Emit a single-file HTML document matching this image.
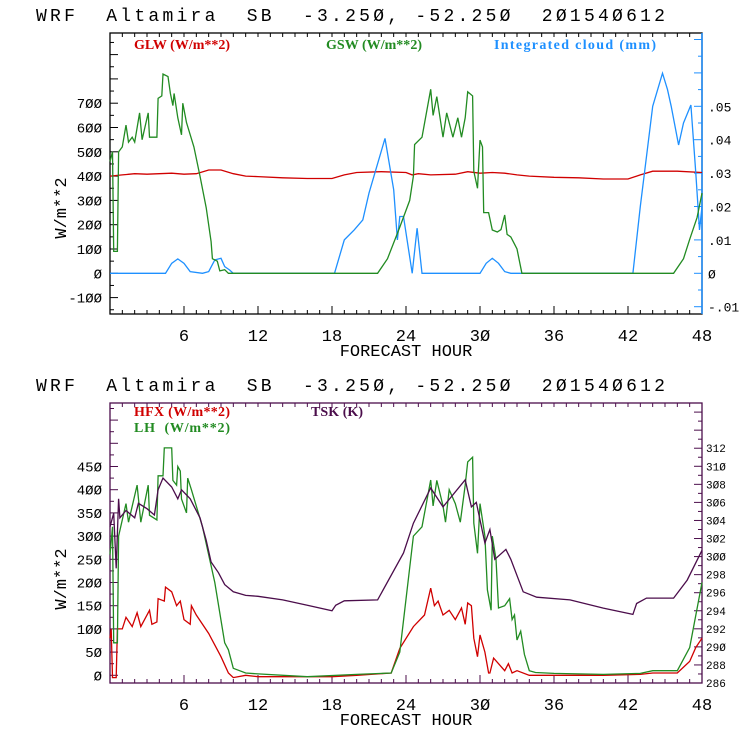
<!DOCTYPE html>
<html><head><meta charset="utf-8"><style>
html,body{margin:0;padding:0;background:#fff;}
svg text{font-family:"Liberation Mono","DejaVu Sans Mono",monospace;}
.leg{font-family:"Liberation Serif",serif;font-weight:bold;font-size:14px;white-space:pre;}
.ttl{white-space:pre;}
</style></head><body>
<svg id="c" width="740" height="740" viewBox="0 0 740 740" xmlns="http://www.w3.org/2000/svg"></svg>
<script>
// ---- data (top panel) ----
const glwH=[0,1,2,3,4,5,6,7,8,9,10,11,12,14,16,18,19,20,22,24,24.5,25,26,28,29,30,31,32,33,34,36,38,40,42,43,44,46,48];
const glwV=[400,405,410,408,410,412,408,410,425,425,410,400,398,393,390,390,405,415,418,415,405,410,405,408,418,412,415,412,405,400,395,393,388,388,405,420,420,415];
const gswH=[0,0.2,0.3,0.6,0.7,1.0,1.3,1.5,1.8,2.0,2.4,2.6,3.1,3.2,3.8,3.9,4.2,4.3,4.7,4.9,5.1,5.2,5.5,5.8,5.9,6.2,6.8,7.3,7.8,8.2,8.3,8.7,8.9,9.3,9.6,21.7,22.5,23.5,24.3,24.6,24.7,25.3,26.0,26.2,26.5,27.0,27.3,27.8,28.2,28.5,28.8,29.0,29.4,29.5,29.8,30.0,30.2,30.3,30.7,31.0,31.4,31.7,32.0,32.2,32.5,32.8,33.0,33.4,45.7,46.5,47,47.6,48];
const gswV=[460,500,90,90,500,520,610,540,560,540,660,550,660,560,560,720,730,820,810,740,690,740,640,570,700,620,520,400,270,130,60,50,10,15,0,0,60,190,300,400,530,560,757,650,727,560,660,560,640,560,640,747,730,420,350,548,520,250,250,178,170,180,240,160,150,120,100,0,0,60,140,230,330];
const cldH=[0,4.5,5,5.5,6,6.5,7.5,8,8.5,9,9.3,9.7,10,18.2,19,19.8,20.5,21,22.3,23,23.3,23.5,23.8,24.5,24.9,25.3,30,30.5,31,31.5,32,32.5,42.4,43,43.5,44,44.8,45.2,45.5,46.1,46.5,47.1,47.5,47.8,48];
const cldV=[0,0,0.003,0.0043,0.003,0.0005,0,0.0005,0.004,0.0045,0.002,0.001,0,0,0.01,0.013,0.016,0.024,0.0404,0.025,0.01,0.017,0.017,0,0.0135,0,0,0.003,0.0045,0.003,0.0005,0,0,0.02,0.035,0.05,0.0599,0.055,0.05,0.0384,0.045,0.0504,0.03,0.013,0.02];
// ---- data (bottom panel) ----
const hfxH=[0,0.1,0.2,0.5,0.6,1,1.3,1.8,2.2,2.5,3.2,3.4,3.8,3.9,4.4,4.5,5,5.4,5.7,6,6.5,6.6,7,8,9,9.6,10,11,12,18,20,22.8,23.5,24.6,25.5,26.0,26.3,26.6,27,27.5,28,28.5,28.8,29.0,29.3,29.5,29.8,30.0,30.4,30.7,30.8,31.1,32,32.3,32.6,33,34,36,40,43,44,46,47,47.5,48];
const hfxV=[80,100,-5,-5,100,100,125,105,135,105,140,110,115,165,160,190,180,150,160,120,110,150,130,90,40,5,-5,0,-3,-3,0,5,58,105,130,188,150,160,130,140,120,145,110,156,150,80,40,87,50,5,5,37,10,25,5,10,0,0,0,2,5,5,30,60,80];
const lhH=[0,0.2,0.3,0.6,0.7,1.3,1.5,2.2,2.5,3.1,3.2,3.8,3.9,4.3,4.4,5,5.1,5.4,5.5,5.7,5.8,6.2,6.3,6.6,7.5,8.5,9.3,9.6,10,11,12,16,20,22.8,23.5,24.6,25.3,26,26.2,26.5,27,27.2,27.5,28,28.4,28.8,29,29.4,29.5,29.8,30,30.4,30.6,30.9,31,31.3,31.5,32,32.4,32.6,32.8,33,33.3,33.6,34,34.5,36,40,43,44,46,47,48];
const lhV=[260,320,70,70,300,370,330,410,330,410,345,335,430,430,490,490,420,410,450,440,380,350,425,400,320,200,70,55,15,5,3,-3,2,5,50,300,320,421,365,420,365,330,400,370,330,410,460,470,328,263,370,300,184,140,300,250,145,150,165,120,130,76,95,45,10,6,4,2,4,10,10,60,200];
const tskH=[0,0.3,0.5,0.7,0.8,1.3,2,2.3,3,3.6,3.9,4.3,5,5.5,5.8,6.5,7.3,7.8,8.2,8.8,9.3,10,11,12,14,16,18,18.3,19,21.7,23.8,24.6,26.0,27.0,28.8,29.3,29.7,30.4,30.8,31.2,32.1,32.5,33.5,34.6,37.3,40,42.4,42.7,43.5,45.7,46.8,48];
const tskV=[303.3,304.8,298.7,306.4,304.3,305.1,304.3,305.9,305.3,304.6,307.4,308.7,307.7,306.4,307.4,306.4,304.3,301.8,299.4,298.2,296.9,296.1,295.7,295.6,295.2,294.6,294.0,294.6,295.1,295.2,300.4,303.7,307.6,305.5,308.5,305.5,306,301.5,303,299.7,300.8,299.7,296.1,295.5,295.2,294.3,293.6,294.8,295.4,295.4,297.4,300.7];
const xTicks=[6,12,18,24,30,36,42,48];
const topLeftTicks=[-100,0,100,200,300,400,500,600,700];
const topRightTicks=[-0.01,0,0.01,0.02,0.03,0.04,0.05];
const topRightLabels=["-.01","Ø",".01",".02",".03",".04",".05"];
const botLeftTicks=[0,50,100,150,200,250,300,350,400,450];
const botRightTicks=[286,288,290,292,294,296,298,300,302,304,306,308,310,312];

const NS="http://www.w3.org/2000/svg";
const svg=document.getElementById('c');
function mk(tag,attrs,parent){const e=document.createElementNS(NS,tag);for(const k in attrs)e.setAttribute(k,attrs[k]);(parent||svg).appendChild(e);return e;}
function txt(s,x,y,attrs,parent){const t=mk('text',Object.assign({x:x,y:y},attrs),parent);t.textContent=s;return t;}
const X0=110,X1=702;
const xs=h=>X0+(X1-X0)*h/48;
const zs=s=>String(s).replace(/0/g,'Ø');
function line(hs,vs,sc,color,name,g){
  const p=hs.map((h,i)=>xs(h).toFixed(1)+','+sc(vs[i]).toFixed(1)).join(' ');
  const l=mk('polyline',{points:p,fill:'none',stroke:color,'stroke-width':1.3},g);
  
  
}
function panel(top,bot,frameCol,name){
  const g=mk('g',{});
  
  
  mk('rect',{x:X0,y:top,width:X1-X0,height:bot-top,fill:'none',stroke:frameCol,'stroke-width':1.3},g);
  for(let h=1;h<48;h++){
    const x=xs(h);
    mk('line',{x1:x,y1:top,x2:x,y2:top+4,stroke:frameCol},g);
    mk('line',{x1:x,y1:bot,x2:x,y2:bot-(h%6===0?8:4),stroke:frameCol},g);
  }
  xTicks.forEach(h=>{const t=txt(zs(h),xs(h),bot+27,{'font-size':17,'text-anchor':'middle',fill:'#000'},g);
    });
  const xt=txt('FORECAST HOUR',406,bot+42,{'font-size':17,'text-anchor':'middle',fill:'#000'},g);
  
  return g;
}
function title(y){const t=txt('WRF  Altamira  SB  -3.25Ø, -52.25Ø  2Ø154Ø612',36,y,{class:'ttl','font-size':18,textLength:629,lengthAdjust:'spacing',fill:'#000'});
  }

// ---- top panel ----
title(21);
const T0=33,T1=314;
const yL=v=>273.3-v*0.243;
const yR=v=>273.3-v*3340;
const g1=panel(T0,T1,'#000','top-panel');
for(let v=-150;v<=975;v+=50){const y=yL(v);if(y<T0||y>T1)continue;
  mk('line',{x1:X0,y1:y,x2:X0+(v%100===0?8:4),y2:y,stroke:'#000'},g1);}
topLeftTicks.forEach(v=>{const t=txt(zs(v),X0-8,yL(v)+5,{'font-size':14,'text-anchor':'end',fill:'#000'},g1);
  });
mk('line',{x1:X1,y1:T0,x2:X1,y2:T1,stroke:'#1e90ff','stroke-width':1.5},g1);
for(let v=-0.01;v<=0.0801;v+=0.005){const y=yR(v);if(y<T0||y>T1)continue;
  mk('line',{x1:X1,y1:y,x2:X1-(Math.round(v*1000)%10===0?8:4),y2:y,stroke:'#1e90ff'},g1);}
topRightTicks.forEach((v,i)=>{const t=txt(topRightLabels[i],708,yR(v)+5,{'font-size':13,fill:'#000'},g1);
  });
const yt1=txt('W/m**2',0,0,{'font-size':17,'text-anchor':'middle',transform:'translate(66,208) rotate(-90)',fill:'#000'},g1);

[['GLW (W/m**2)',134,'#d00000','legend-glw',96],['GSW (W/m**2)',326,'#228b22','legend-gsw',96],['Integrated cloud (mm)',494,'#1e90ff','legend-cloud',162]].forEach(a=>{
  const t=txt(a[0],a[1],49,{class:'leg',fill:a[2],textLength:a[4]},g1);});
line(glwH,glwV,yL,'#d00000','glw-line',g1);
line(cldH,cldV,yR,'#1e90ff','cloud-line',g1);
line(gswH,gswV,yL,'#228b22','gsw-line',g1);

// ---- bottom panel ----
title(391);
const B0=403,B1=683;
const bL=v=>675.3-v*0.464;
const bR=v=>683-(v-286)*9.03;
const g2=panel(B0,B1,'#4b0d4b','bottom-panel');
for(let v=0;v<=575;v+=25){const y=bL(v);if(y<B0||y>B1)continue;
  mk('line',{x1:X0,y1:y,x2:X0+(v%50===0?8:4),y2:y,stroke:'#4b0d4b'},g2);}
botLeftTicks.forEach(v=>{const t=txt(zs(v),X0-8,bL(v)+5,{'font-size':14,'text-anchor':'end',fill:'#000'},g2);
  });
for(let v=286;v<=316;v+=1){const y=bR(v);if(y<B0||y>B1)continue;
  mk('line',{x1:X1,y1:y,x2:X1-(v%2===0?8:4),y2:y,stroke:'#4b0d4b'},g2);}
botRightTicks.forEach(v=>{const t=txt(zs(v),706,bR(v)+4,{'font-size':11,fill:'#000'},g2);
  });
const yt2=txt('W/m**2',0,0,{'font-size':17,'text-anchor':'middle',transform:'translate(66,579) rotate(-90)',fill:'#000'},g2);

[['HFX (W/m**2)',134,416,'#d00000','legend-hfx',96],['LH  (W/m**2)',134,432,'#228b22','legend-lh',96],['TSK (K)',311,416,'#4b0d4b','legend-tsk',52]].forEach(a=>{
  const t=txt(a[0],a[1],a[2],{class:'leg',fill:a[3],textLength:a[5]},g2);});
line(hfxH,hfxV,bL,'#d00000','hfx-line',g2);
line(lhH,lhV,bL,'#228b22','lh-line',g2);
line(tskH,tskV,bR,'#4b0d4b','tsk-line',g2);
</script>
</body></html>
